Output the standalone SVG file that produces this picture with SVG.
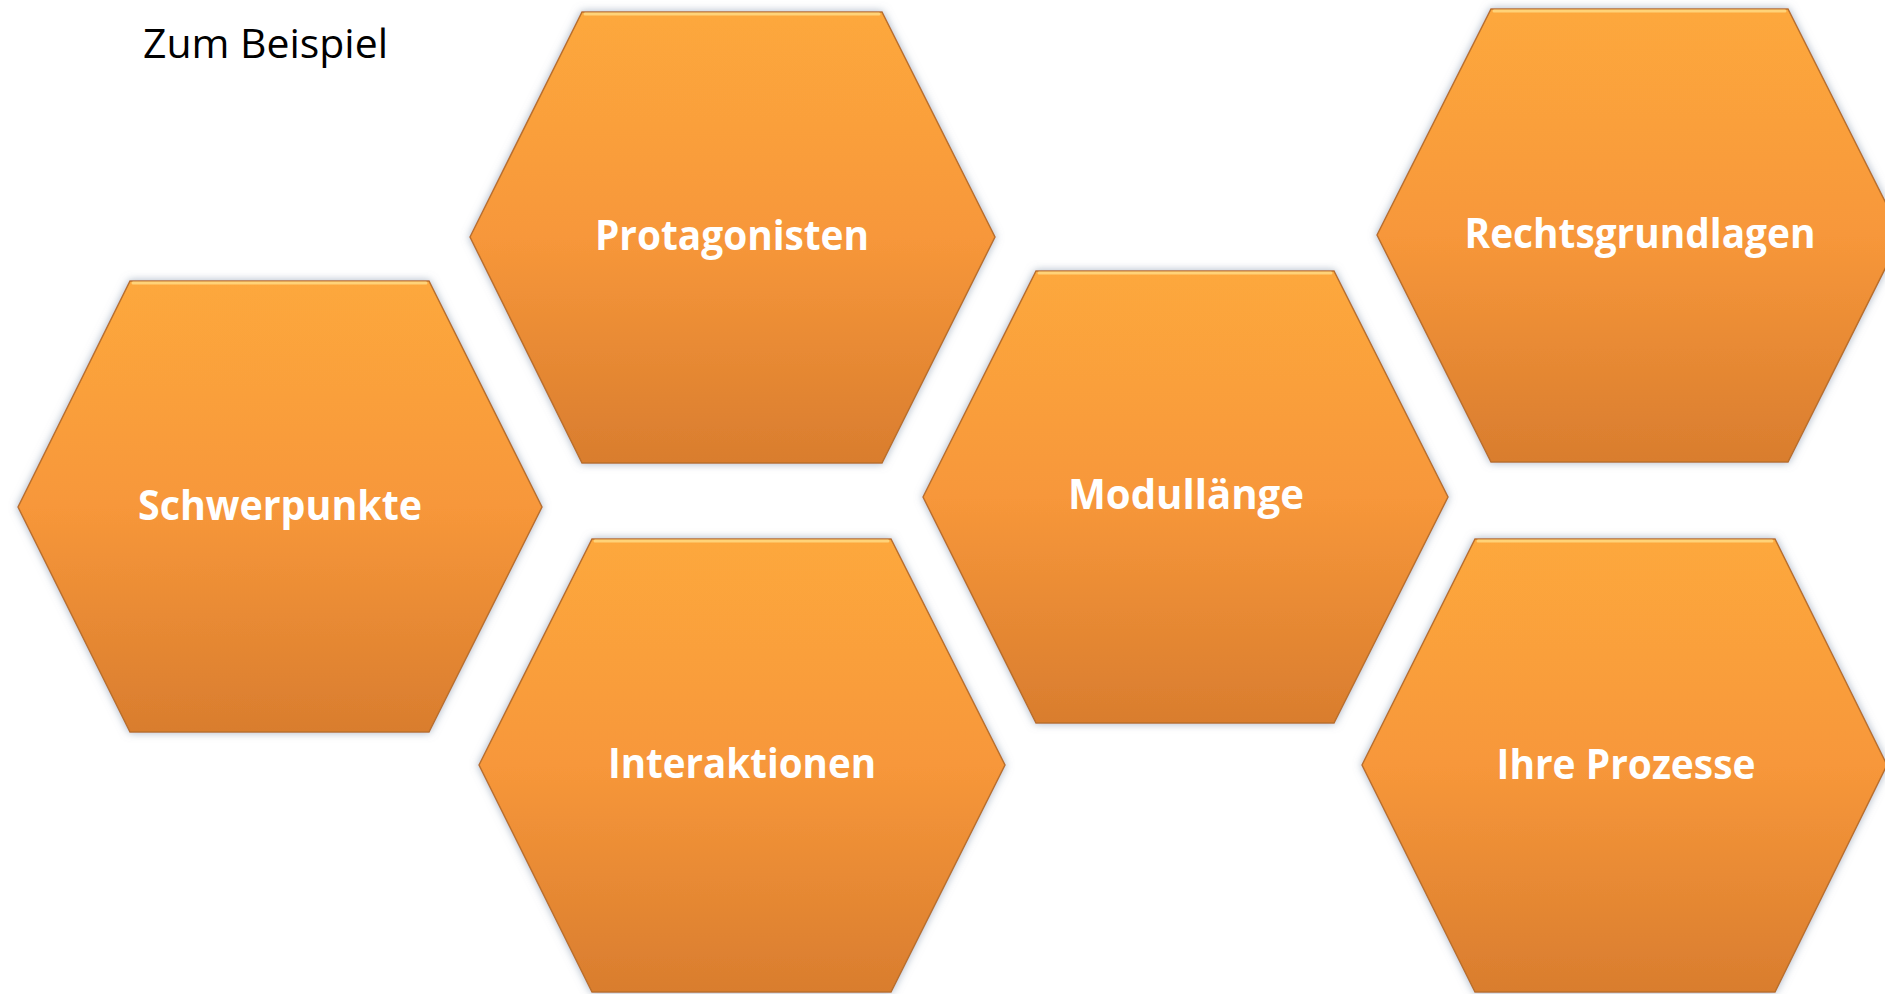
<svg xmlns="http://www.w3.org/2000/svg" width="1885" height="994" viewBox="0 0 1885 994">
<defs>
<linearGradient id="g" x1="0" y1="0" x2="0" y2="1">
<stop offset="0" stop-color="#FDA83C"/>
<stop offset="0.5" stop-color="#F7973A"/>
<stop offset="1" stop-color="#D97D2E"/>
</linearGradient>
<filter id="sh" x="-10%" y="-10%" width="120%" height="120%">
<feGaussianBlur in="SourceAlpha" stdDeviation="4" result="b"/>
<feFlood flood-color="#8C9BB0" flood-opacity="0.75"/>
<feComposite in2="b" operator="in" result="s"/>
<feMerge><feMergeNode in="s"/><feMergeNode in="SourceGraphic"/></feMerge>
</filter>
</defs>
<style>
.hex{fill:url(#g);stroke:#B9702C;stroke-width:1.5;filter:url(#sh)}
.hl{fill:none;stroke:#FFD77E;stroke-width:3;stroke-linecap:round;opacity:0.9}
.lbl{font-family:"Open Sans","Noto Sans","Liberation Sans",sans-serif;font-weight:bold;font-size:42px;fill:#FFFFFF;text-anchor:middle}
.title{font-family:"Open Sans","Noto Sans","Liberation Sans",sans-serif;font-size:40px;fill:#000000}
</style>
<rect width="1885" height="994" fill="#FFFFFF"/>
<text class="title" x="143" y="58" textLength="245" lengthAdjust="spacingAndGlyphs">Zum Beispiel</text>
<g id="connectors"></g>
<g id="node-protagonisten">
<polygon class="hex" points="470,237 582,12 882,12 995,237 882,463 582,463"/>
<polyline class="hl" points="585,14 879,14"/>
<text class="lbl" x="732" y="250" textLength="274" lengthAdjust="spacingAndGlyphs">Protagonisten</text>
</g>
<g id="node-schwerpunkte">
<polygon class="hex" points="18,507 130,281 429,281 542,507 429,732 130,732"/>
<polyline class="hl" points="133,283 426,283"/>
<text class="lbl" x="280" y="520" textLength="284" lengthAdjust="spacingAndGlyphs">Schwerpunkte</text>
</g>
<g id="node-modullaenge">
<polygon class="hex" points="923,497 1036,271 1334,271 1448,497 1334,723 1036,723"/>
<polyline class="hl" points="1039,273 1331,273"/>
<text class="lbl" x="1186" y="509" textLength="236" lengthAdjust="spacingAndGlyphs">Modullänge</text>
</g>
<g id="node-rechtsgrundlagen">
<polygon class="hex" points="1377,235 1491,9 1788,9 1902,235 1788,462 1491,462"/>
<polyline class="hl" points="1494,11 1785,11"/>
<text class="lbl" x="1640" y="248" textLength="351" lengthAdjust="spacingAndGlyphs">Rechtsgrundlagen</text>
</g>
<g id="node-interaktionen">
<polygon class="hex" points="479,765 592,539 891,539 1005,765 891,992 592,992"/>
<polyline class="hl" points="595,541 888,541"/>
<text class="lbl" x="742" y="778" textLength="268" lengthAdjust="spacingAndGlyphs">Interaktionen</text>
</g>
<g id="node-ihre-prozesse">
<polygon class="hex" points="1362,765 1475,539 1775,539 1887,765 1775,992 1475,992"/>
<polyline class="hl" points="1478,541 1772,541"/>
<text class="lbl" x="1626" y="779" textLength="259" lengthAdjust="spacingAndGlyphs">Ihre Prozesse</text>
</g>
</svg>
